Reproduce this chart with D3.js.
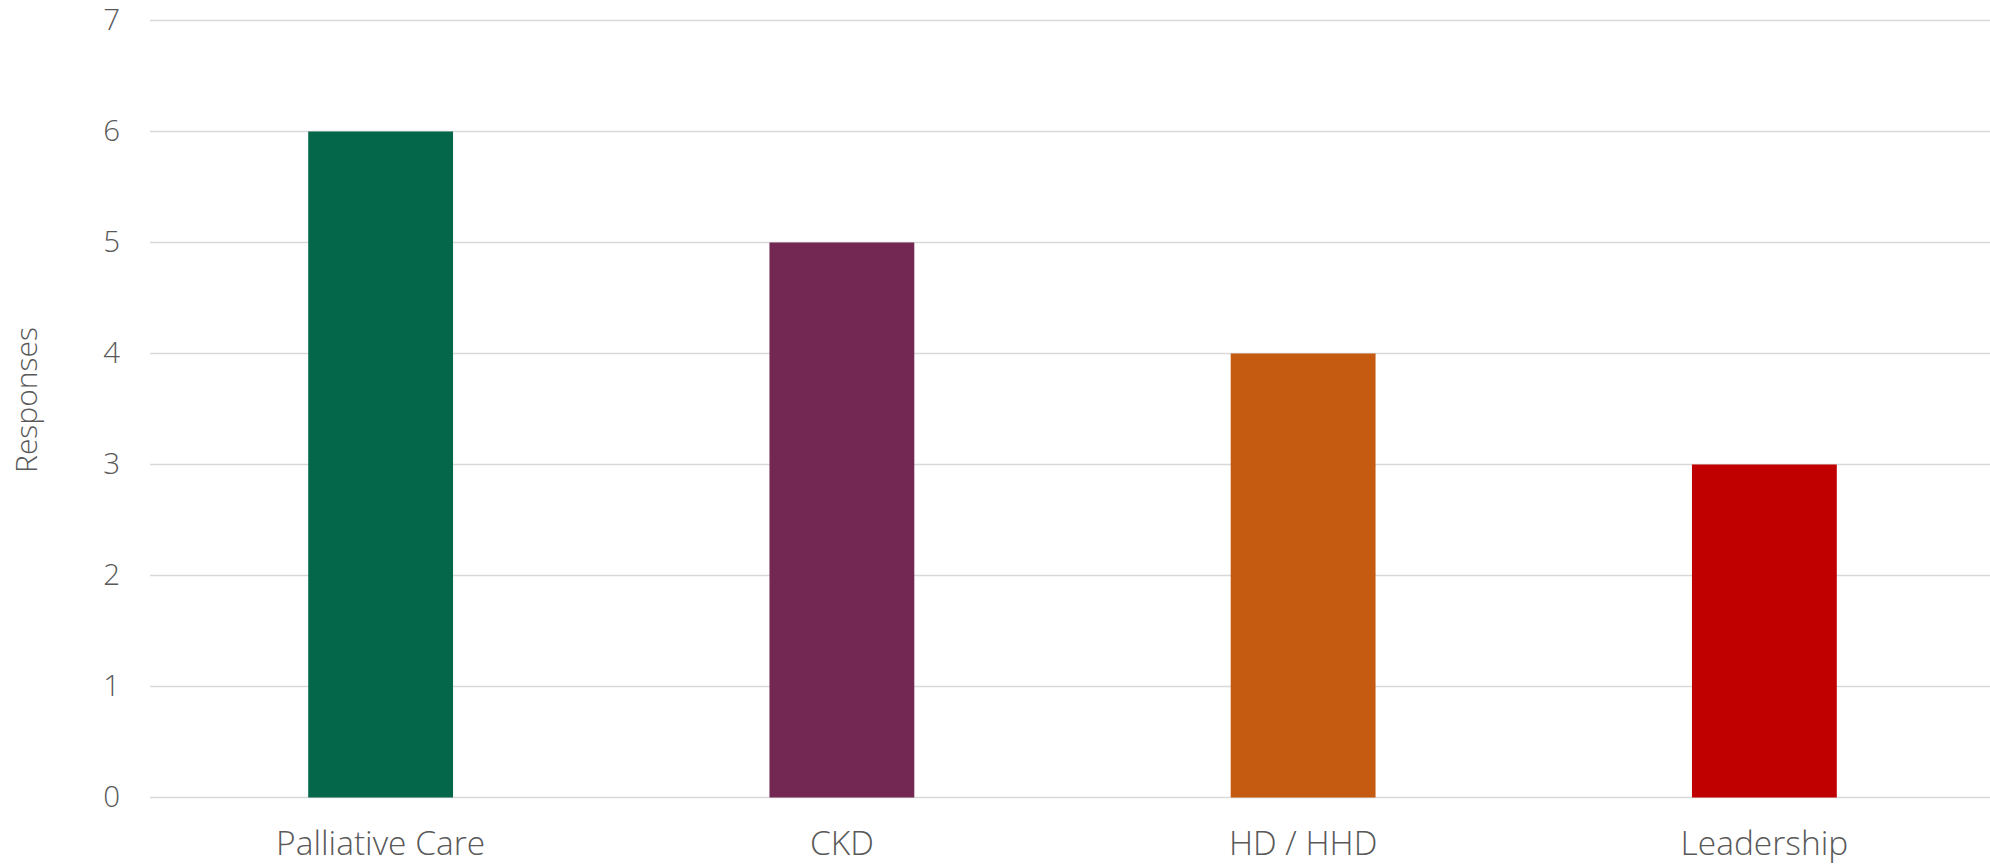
<!DOCTYPE html>
<html><head><meta charset="utf-8">
<script src="https://cdn.jsdelivr.net/npm/d3@7"></script>
<style>
html,body{margin:0;padding:0;background:#fff;}
svg{display:block;}
text{font-family:"Open Sans","Noto Sans",sans-serif;font-weight:300;fill:#595959;}
</style></head>
<body>
<svg id="chart" width="1990" height="864"></svg>
<script>
const categories = ["Palliative Care", "CKD", "HD / HHD", "Leadership"];
const values = [6, 5, 4, 3];
const colors = ["#04674A", "#722853", "#C55A11", "#C00000"];
const yTicks = [0, 1, 2, 3, 4, 5, 6, 7];
const yTitle = "Responses";

(function () {
const svg = d3.select("#chart");
const mLeft = 150, mRight = 1995, mTop = 20.5, mBottom = 797.5;

const x = d3.scaleBand().domain(categories).range([mLeft, mRight]).paddingInner(0.686).paddingOuter(0.343);
const y = d3.scaleLinear().domain([0, 7]).range([mBottom, mTop]);

svg.append("g").selectAll("line").data(yTicks).join("line")
  .attr("x1", mLeft).attr("x2", mRight)
  .attr("y1", d => y(d)).attr("y2", d => y(d))
  .attr("stroke", "#d9d9d9").attr("stroke-width", 1.5);

const yAxis = d3.axisLeft(y).tickValues(yTicks).tickSize(0).tickPadding(0).tickFormat(d3.format("d"));
const gy = svg.append("g").attr("transform", `translate(120,0)`).call(yAxis);
gy.select(".domain").remove();
gy.attr("font-family", null).attr("font-size", null);
gy.selectAll("text").attr("font-size", 29.5).attr("fill", "#595959");

svg.append("g").selectAll("rect").data(values).join("rect")
  .attr("x", (d, i) => x(categories[i]))
  .attr("width", x.bandwidth())
  .attr("y", d => y(d))
  .attr("height", d => y(0) - y(d))
  .attr("fill", (d, i) => colors[i]);

const xAxis = d3.axisBottom(x).tickSize(0).tickPadding(0);
const gx = svg.append("g").attr("transform", `translate(0,${mBottom + 34})`).call(xAxis);
gx.select(".domain").remove();
gx.attr("font-family", null).attr("font-size", null);
gx.selectAll("text").attr("font-size", 33.5).attr("fill", "#595959").attr("dy", "0.71em");

svg.append("text")
  .attr("transform", `translate(37,400) rotate(-90)`)
  .attr("text-anchor", "middle")
  .attr("font-size", 30)
  .text(yTitle);
})();
</script>
</body></html>
